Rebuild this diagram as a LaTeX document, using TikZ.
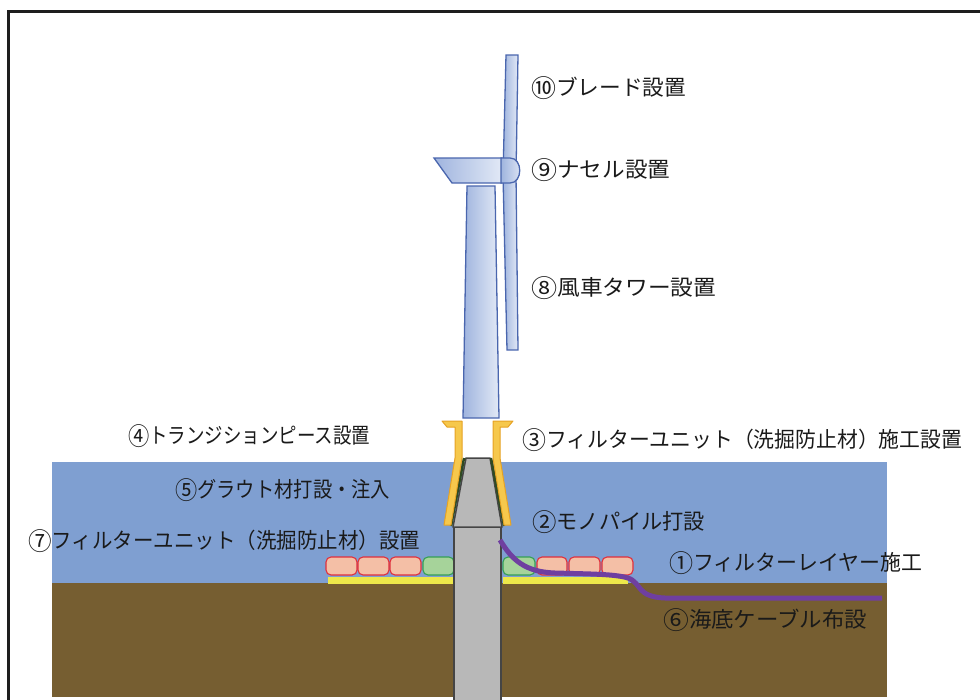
\documentclass[tikz,border=0pt]{standalone}
\usepackage{fontspec}
\usepackage{graphicx}
\newfontfamily\jpfont{Noto Sans CJK JP}
\definecolor{framecol}{HTML}{1E1E1E}
\definecolor{seacol}{HTML}{7F9FD1}
\definecolor{bedcol}{HTML}{765E31}
\definecolor{towerline}{HTML}{4A66AE}
\definecolor{towerdark}{HTML}{9FB4DE}
\definecolor{towerlight}{HTML}{E2E9F6}
\definecolor{pilefill}{HTML}{B8B8B8}
\definecolor{pileline}{HTML}{454545}
\definecolor{tpfill}{HTML}{F6C84C}
\definecolor{tpline}{HTML}{E6A224}
\definecolor{groutcol}{HTML}{2F4A22}
\definecolor{unitred}{HTML}{E0303C}
\definecolor{unitfill}{HTML}{F4BFA6}
\definecolor{unitgline}{HTML}{35A055}
\definecolor{unitgfill}{HTML}{A6D39A}
\definecolor{layercol}{HTML}{EDE84A}
\definecolor{cablecol}{HTML}{6F3FA0}
\definecolor{textcol}{HTML}{1A1A1A}
% circled step number, set a little larger than the kana
\newcommand\stepno[1]{\raisebox{-0.07em}{\scalebox{1.15}{#1}}}
% set a label to a given width, keeping its height
\newsavebox\lblbox
\newcommand\fitto[2]{\sbox\lblbox{#2}\resizebox{#1}{\ht\lblbox}{\usebox\lblbox}}
\begin{document}
\begin{tikzpicture}[x=1pt,y=-1pt,
  lbl/.style={font=\jpfont\fontsize{21.5}{22}\selectfont, text=textcol, inner sep=0pt, anchor=west},
  steel/.style={draw=towerline, line width=1.3pt, left color=towerdark, right color=towerlight},
  unitpink/.style={draw=unitred, fill=unitfill, line width=1.1pt, rounded corners=5pt},
  unitgreen/.style={draw=unitgline, fill=unitgfill, line width=1.1pt, rounded corners=5pt},
  tpiece/.style={draw=tpline, fill=tpfill, line width=1pt, line join=round},
  pilepart/.style={draw=pileline, fill=pilefill, line width=1.5pt},
]
\useasboundingbox (0,0) rectangle (980,699);

% frame
\draw[framecol, line width=3pt] (8,705) -- (8,11) -- (990,11);

% sea and seabed
\fill[seacol] (52,462) rectangle (887,583);
\fill[bedcol] (52,583) rectangle (887,697);

% filter layer
\fill[layercol] (328,577) rectangle (454,584);
\fill[layercol] (503,577) rectangle (628,584);

% filter units, left group
\draw[unitpink]  (326,557) rectangle (357,575);
\draw[unitpink]  (358,557) rectangle (389,575);
\draw[unitpink]  (390,557) rectangle (421,575);
\draw[unitgreen] (423,557) rectangle (454,575);
% filter units, right group
\draw[unitgreen] (503,557) rectangle (535,575);
\draw[unitpink]  (537,557) rectangle (567,575);
\draw[unitpink]  (569,557) rectangle (600,575);
\draw[unitpink]  (602,557) rectangle (633,575);

% monopile
\draw[pilepart] (454,527) rectangle (501,705);
\draw[pilepart, line join=round] (466,458) -- (490,458) -- (502,527) -- (453,527) -- cycle;

% grout between pile and transition piece
\draw[groutcol, line width=2.5pt] (464,458) -- (451,526);
\draw[groutcol, line width=2.5pt] (491,458) -- (504,526);

% transition piece
\draw[tpiece] (442,421) -- (462,421) -- (462,458) -- (451,525) -- (444,525)
  -- (455,458) -- (455,427) -- (447,427) -- cycle;
\draw[tpiece] (513,421) -- (493,421) -- (493,458) -- (504,525) -- (511,525)
  -- (500,458) -- (500,427) -- (508,427) -- cycle;

% submarine cable
\draw[cablecol, line width=5pt]
  (500,540) .. controls (512,560) and (525,572) .. (555,573)
  .. controls (590,574) and (615,574) .. (628,578)
  .. controls (642,583) and (636,597) .. (665,598) -- (882,598);

% tower, nacelle, blade, hub
\draw[steel] (467,186) -- (495,186) -- (499,418) -- (463,418) -- cycle;
\draw[steel] (434,158) -- (502,158) -- (502,183) -- (452,183) -- cycle;
\draw[steel] (506,55) -- (518,55) -- (516,175) -- (518,350) -- (507,350) -- (503,175) -- cycle;
\draw[steel] (501,158) -- (510,158) .. controls (523,158) and (523,183) .. (510,183) -- (501,183) -- cycle;

% labels
\node[lbl] (l10) at (531,88)  {\fitto{155pt}{\stepno{⑩}ブレード設置}};
\node[lbl] (l9)  at (531,170) {\fitto{139pt}{\stepno{⑨}ナセル設置}};
\node[lbl] (l8)  at (531,288) {\fitto{185pt}{\stepno{⑧}風車タワー設置}};
\node[lbl] (l4)  at (128,436) {\fitto{242pt}{\stepno{④}トランジションピース設置}};
\node[lbl] (l3)  at (522,440) {\fitto{440pt}{\stepno{③}フィルターユニット（洗掘防止材）施工設置}};
\node[lbl] (l5)  at (175,490) {\fitto{215pt}{\stepno{⑤}グラウト材打設・注入}};
\node[lbl] (l2)  at (532,522) {\fitto{173pt}{\stepno{②}モノパイル打設}};
\node[lbl] (l7)  at (28,541)  {\fitto{392pt}{\stepno{⑦}フィルターユニット（洗掘防止材）設置}};
\node[lbl] (l1)  at (669,563) {\fitto{253pt}{\stepno{①}フィルターレイヤー施工}};
\node[lbl] (l6)  at (663,620) {\fitto{204pt}{\stepno{⑥}海底ケーブル布設}};
\end{tikzpicture}
\end{document}
